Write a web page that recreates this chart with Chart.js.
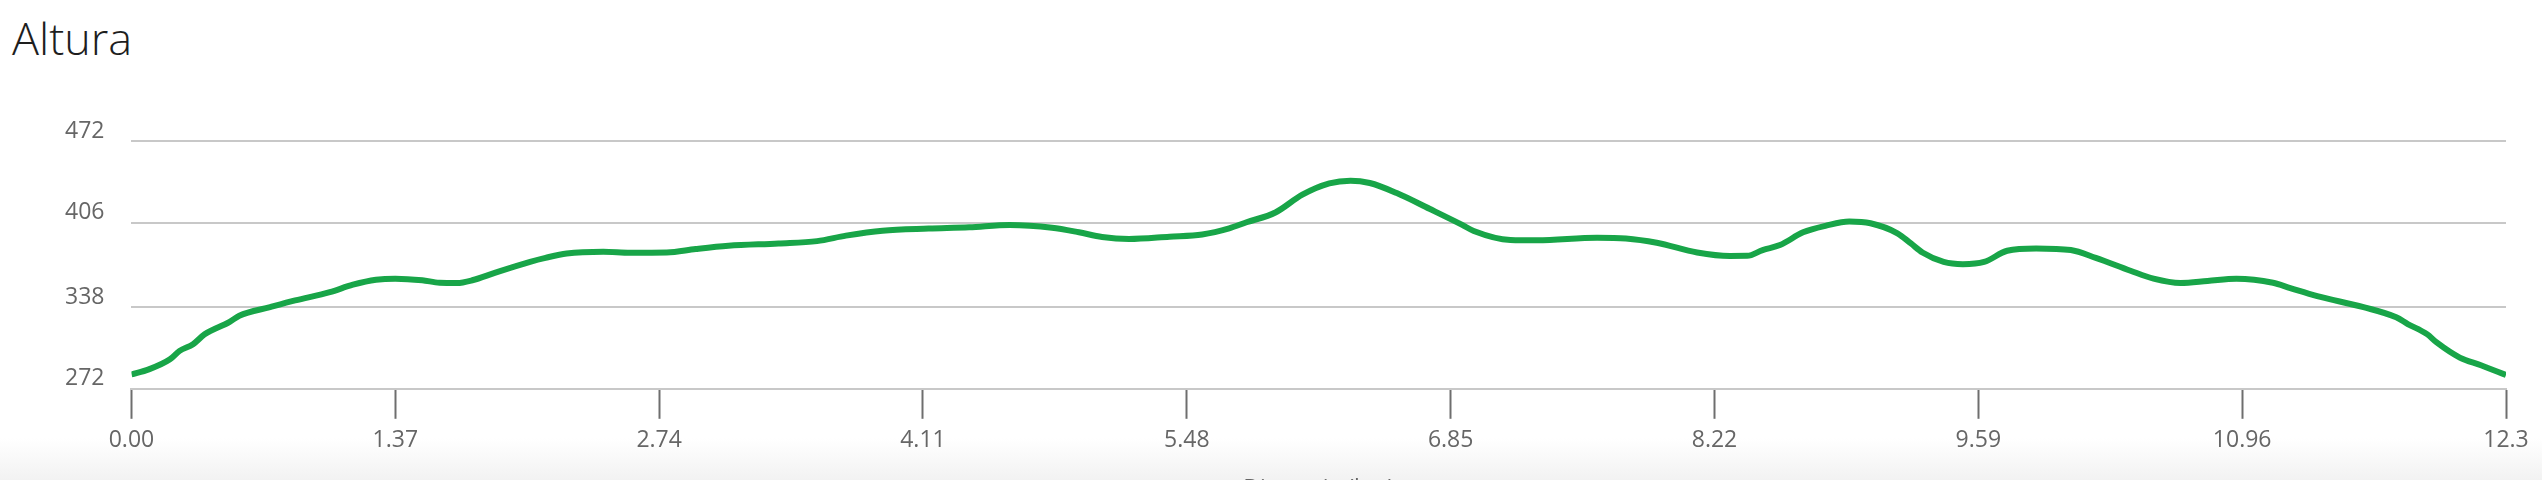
<!DOCTYPE html>
<html>
<head>
<meta charset="utf-8">
<script src="https://cdn.jsdelivr.net/npm/chart.js@4/dist/chart.umd.min.js"></script>
<style>
  html, body { margin: 0; padding: 0; }
  body {
    width: 2542px; height: 480px; overflow: hidden; position: relative;
    background: linear-gradient(to bottom, #fff 0, #fff 438px, #f2f2f2 480px);
    font-family: "Open Sans", sans-serif;
  }
  #titulo {
    position: absolute; left: 12px; top: 15px; margin: 0;
    font: 300 45px/45px "Open Sans", sans-serif; color: #1e1e1e;
  }
  #wrap { position: absolute; left: 0; top: 0; width: 2542px; height: 503px; }
</style>
</head>
<body>
<h1 id="titulo">Altura</h1>
<div id="wrap"><canvas id="perfil"></canvas></div>
<script>
var distKm = [0.00, 0.09, 0.20, 0.25, 0.32, 0.38, 0.51, 0.56, 0.72, 0.85,
  1.03, 1.15, 1.27, 1.37, 1.51, 1.60, 1.69, 1.77, 1.89, 2.07,
  2.15, 2.26, 2.45, 2.59, 2.78, 2.93, 3.10, 3.36, 3.56, 3.71,
  3.90, 4.14, 4.35, 4.56, 4.78, 4.92, 5.04, 5.18, 5.39, 5.56,
  5.70, 5.79, 5.94, 6.08, 6.22, 6.33, 6.43, 6.57, 6.74, 6.91,
  6.97, 7.16, 7.30, 7.61, 7.76, 7.92, 8.13, 8.30, 8.39, 8.47,
  8.56, 8.68, 8.80, 8.92, 9.03, 9.17, 9.24, 9.30, 9.41, 9.51,
  9.62, 9.74, 9.89, 10.07, 10.20, 10.38, 10.50, 10.64, 10.78, 10.93,
  11.12, 11.21, 11.35, 11.59, 11.76, 11.82, 11.92, 11.97, 12.09, 12.20, 12.33];

var altura = [283.6, 287.7, 295.8, 302.6, 308, 316, 326, 331, 337.9, 343.3,
  350, 356, 360, 360.9, 359.6, 357.6, 357.4, 359.6, 365.8, 374.5,
  377.7, 381.2, 382.6, 381.8, 382, 384.8, 387.4, 389.3, 391.2, 395.6,
  399.6, 401.3, 402.3, 404.2, 402, 398.3, 394.5, 392.9, 394.8, 396.6,
  401.5, 406.4, 414.3, 428.7, 437.8, 440, 438.1, 430, 417.3, 404.3,
  399.4, 392.1, 391.8, 394, 393.4, 389.9, 382, 379.2, 379.3, 384,
  388, 398.3, 403.7, 407, 405.6, 397.5, 389.3, 382, 374.4, 372.6,
  374.4, 383.4, 385.3, 384, 377.7, 367.3, 360.9, 357.4, 359, 360.9,
  357.6, 353.3, 346.8, 337.9, 329.7, 324.3, 316.1, 309.4, 297.2, 291, 283.1];

var xTickValues = [0, 1.37, 2.74, 4.11, 5.48, 6.85, 8.22, 9.59, 10.96, 12.33];
var xTickLabels = ['0.00', '1.37', '2.74', '4.11', '5.48', '6.85', '8.22', '9.59', '10.96', '12.3'];
var yTickValues = [272, 338, 406, 472];
var yTickLabels = ['272', '338', '406', '472'];

var puntos = [];
for (let i = 0; i < distKm.length; i++) {
  puntos.push({ x: distKm[i], y: altura[i] });
}

var ctx = document.getElementById('perfil').getContext('2d');

new Chart(ctx, {
  type: 'line',
  data: {
    datasets: [{
      label: 'Altura',
      data: puntos,
      borderColor: '#18a548',
      borderWidth: 6,
      pointRadius: 0,
      fill: false,
      cubicInterpolationMode: 'monotone'
    }]
  },
  options: {
    responsive: true,
    maintainAspectRatio: false,
    animation: false,
    layout: { padding: { left: 38, right: 36, top: 141, bottom: 0 } },
    plugins: {
      legend: { display: false },
      tooltip: { enabled: false }
    },
    scales: {
      x: {
        type: 'linear',
        min: 0,
        max: 12.33,
        afterBuildTicks: function (scale) {
          scale.ticks = xTickValues.map(function (v) { return { value: v }; });
        },
        ticks: {
          autoSkip: false,
          maxRotation: 0,
          padding: 8,
          color: '#666',
          font: { family: 'Open Sans', size: 23 },
          callback: function (value, index) { return xTickLabels[index]; }
        },
        grid: {
          drawOnChartArea: false,
          drawTicks: true,
          tickLength: 30,
          tickColor: '#6e6e6e',
          tickWidth: 2
        },
        border: { color: '#c8c8c8', width: 2 },
        title: {
          display: true,
          text: 'Distancia (km)',
          color: '#666',
          font: { family: 'Open Sans', size: 23 },
          padding: { top: 13, bottom: 0 }
        }
      },
      y: {
        min: 272,
        max: 472,
        afterBuildTicks: function (scale) {
          scale.ticks = yTickValues.map(function (v) { return { value: v }; });
        },
        ticks: {
          padding: 27,
          labelOffset: -10,
          color: '#666',
          font: { family: 'Open Sans', size: 23 },
          callback: function (value, index) { return yTickLabels[index]; }
        },
        grid: {
          color: '#c8c8c8',
          lineWidth: 2,
          drawTicks: false
        },
        border: { display: false }
      }
    }
  }
});
</script>
</body>
</html>
